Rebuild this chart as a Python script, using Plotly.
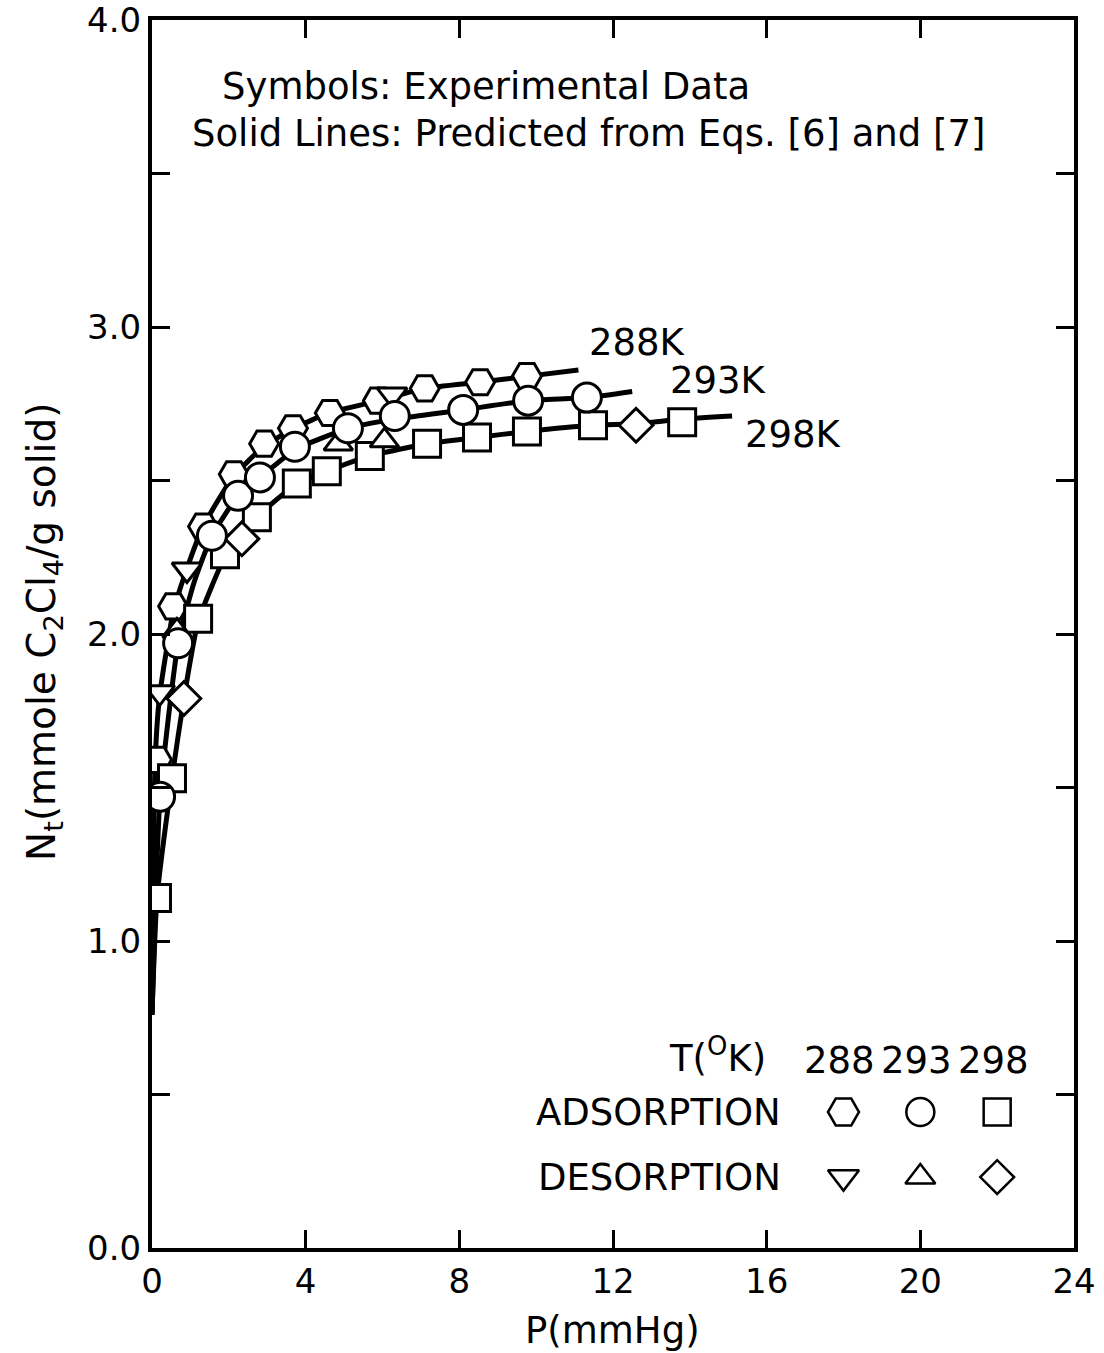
import plotly.graph_objects as go

# ---------------- data ----------------
# 288 K adsorption (hexagons)
ads288_p = [0.13, 0.55, 1.33, 2.13, 2.92, 3.67, 4.63, 5.88, 7.10, 8.54, 9.76]
ads288_n = [1.59, 2.09, 2.35, 2.52, 2.62, 2.67, 2.72, 2.76, 2.80, 2.82, 2.84]
# 288 K desorption (down triangles)
des288_p = [0.20, 0.91, 6.25]
des288_n = [1.81, 2.21, 2.78]
# 293 K adsorption (circles)
ads293_p = [0.21, 0.68, 1.56, 2.24, 2.81, 3.72, 5.10, 6.32, 8.10, 9.79, 11.32]
ads293_n = [1.47, 1.97, 2.32, 2.45, 2.51, 2.61, 2.67, 2.71, 2.73, 2.76, 2.77]
# 293 K desorption (up triangles)
des293_p = [0.65, 4.85, 6.05]
des293_n = [2.01, 2.62, 2.63]
# 298 K adsorption (squares)
ads298_p = [0.13, 0.52, 1.20, 1.90, 2.73, 3.77, 4.55, 5.67, 7.16, 8.46, 9.76, 11.48, 13.80]
ads298_n = [1.14, 1.53, 2.05, 2.26, 2.38, 2.49, 2.53, 2.58, 2.62, 2.64, 2.66, 2.68, 2.69]
# 298 K desorption (diamonds)
des298_p = [0.83, 2.34, 12.60]
des298_n = [1.79, 2.31, 2.68]

# predicted curves (solid lines)
line288_p = [0.0, 0.08, 0.20, 0.55, 0.90, 1.33, 2.10, 2.90, 3.70, 4.60, 5.90, 7.10, 8.50, 9.80, 11.10]
line288_n = [0.76, 1.58, 1.80, 2.07, 2.21, 2.35, 2.51, 2.61, 2.67, 2.72, 2.76, 2.80, 2.82, 2.84, 2.86]
line293_p = [0.0, 0.21, 0.68, 1.10, 1.56, 2.24, 2.81, 3.72, 5.10, 6.32, 8.10, 9.79, 11.32, 12.50]
line293_n = [0.76, 1.47, 1.97, 2.17, 2.32, 2.45, 2.51, 2.60, 2.67, 2.70, 2.73, 2.76, 2.77, 2.79]
line298_p = [0.0, 0.13, 0.52, 0.83, 1.20, 1.90, 2.34, 2.73, 3.77, 4.55, 5.67, 7.16, 8.46, 9.76, 11.48, 12.60, 13.80, 15.10]
line298_n = [0.76, 1.14, 1.53, 1.79, 2.04, 2.25, 2.31, 2.38, 2.49, 2.53, 2.58, 2.62, 2.64, 2.66, 2.68, 2.685, 2.70, 2.71]

curve_labels = ["288K", "293K", "298K"]
curve_label_p = [12.65, 14.75, 16.70]
curve_label_n = [2.95, 2.825, 2.65]

x_ticks = [0, 4, 8, 12, 16, 20, 24]
y_ticks = [0.0, 0.5, 1.0, 1.5, 2.0, 2.5, 3.0, 3.5, 4.0]
y_tick_text = ["0.0", "", "1.0", "", "2.0", "", "3.0", "", "4.0"]

legend_temps = ["288", "293", "298"]
legend_cols = [18.0, 20.0, 22.0]
legend_rows = {"ADSORPTION": 0.443, "DESORPTION": 0.231}

# ---------------- figure ----------------
FONT = "DejaVu Sans"
TXT = 37
fig = go.Figure()

line_style = dict(color="black", width=5, shape="spline", smoothing=0.5)
for px_, ny_ in [(line288_p, line288_n), (line293_p, line293_n), (line298_p, line298_n)]:
    fig.add_trace(go.Scatter(x=px_, y=ny_, mode="lines", line=line_style,
                             hoverinfo="skip", showlegend=False))

def mk(symbol, size):
    return dict(symbol=symbol, size=size, color="white",
                line=dict(color="black", width=3))

series = [
    (ads288_p, ads288_n, "hexagon2", 29),
    (ads298_p, ads298_n, "square", 27),
    (des298_p, des298_n, "diamond", 26),
    (des293_p, des293_n, "triangle-up", 25),
    (des288_p, des288_n, "triangle-down", 26),
    (ads293_p, ads293_n, "circle", 29),
]
for xs, ys, sym, sz in series:
    fig.add_trace(go.Scatter(x=xs, y=ys, mode="markers", marker=mk(sym, sz),
                             showlegend=False))

# legend key symbols
leg_syms = {"ADSORPTION": ["hexagon2", "circle", "square"],
            "DESORPTION": ["triangle-down", "triangle-up", "diamond"]}
leg_sizes = {"ADSORPTION": [31, 28, 27], "DESORPTION": [27, 26, 26]}
for row, yv in legend_rows.items():
    for i, sym in enumerate(leg_syms[row]):
        fig.add_trace(go.Scatter(x=[legend_cols[i]], y=[yv], mode="markers",
                                 marker=dict(symbol=sym, size=leg_sizes[row][i], color="white",
                                             line=dict(color="black", width=2.5)),
                                 showlegend=False))

W0, W1, H0, H1 = 152, 1074, 20, 1248
def px2paper(px, py):
    return (px - W0) / (W1 - W0), (H1 - py) / (H1 - H0)

ann = []
# curve labels
for t, xv, yv in zip(curve_labels, curve_label_p, curve_label_n):
    ann.append(dict(x=xv, y=yv, xref="x", yref="y", text=t, showarrow=False,
                    xanchor="center", yanchor="middle",
                    font=dict(size=TXT, family=FONT, color="black")))
# top texts
for text, (cx, cy) in [("Symbols: Experimental Data", (486, 86)),
                       ("Solid Lines: Predicted from Eqs. [6] and [7]", (588, 133))]:
    xp, yp = px2paper(cx, cy)
    ann.append(dict(x=xp, y=yp, xref="paper", yref="paper", text=text, showarrow=False,
                    xanchor="center", yanchor="middle",
                    font=dict(size=TXT, family=FONT, color="black")))
# legend texts
xp, yp = px2paper(768, 1055)
ann.append(dict(x=xp, y=yp, xref="paper", yref="paper", xanchor="right", yanchor="middle",
                text="T(<sup>O</sup>K)", showarrow=False,
                font=dict(size=TXT, family=FONT, color="black")))
for t, xv in zip(legend_temps, legend_cols):
    ann.append(dict(x=xv - 0.1, y=0.61, xref="x", yref="y", text=t, showarrow=False,
                    xanchor="center", yanchor="middle",
                    font=dict(size=TXT, family=FONT, color="black")))
for row, yv in legend_rows.items():
    ann.append(dict(x=(783 - W0) / 38.42, y=yv, xref="x", yref="y", xanchor="right",
                    yanchor="middle", text=row, showarrow=False,
                    font=dict(size=TXT, family=FONT, color="black")))
# axis titles
xp, yp = px2paper(612, 1330)
ann.append(dict(x=xp, y=yp, xref="paper", yref="paper", text="P(mmHg)", showarrow=False,
                xanchor="center", yanchor="middle",
                font=dict(size=TXT, family=FONT, color="black")))
xp, yp = px2paper(44, 632)
ann.append(dict(x=xp, y=yp, xref="paper", yref="paper", textangle=-90,
                xanchor="center", yanchor="middle",
                text="N<sub>t</sub>(mmole C<sub>2</sub>Cl<sub>4</sub>/g solid)",
                showarrow=False, font=dict(size=39, family=FONT, color="black")))

axis_common = dict(showline=True, linecolor="black", linewidth=4, mirror="ticks",
                   ticks="inside", ticklen=18, tickwidth=3, tickcolor="black",
                   showgrid=False, zeroline=False, automargin=False,
                   ticklabeloverflow="allow",
                   tickfont=dict(size=34, family=FONT, color="black"))
fig.update_layout(
    width=1104, height=1353,
    margin=dict(l=W0, r=1104 - W1, t=H0, b=1353 - H1),
    paper_bgcolor="white", plot_bgcolor="white",
    xaxis=dict(range=[0, 24], tickvals=x_ticks, ticktext=[str(v) for v in x_ticks], **axis_common),
    yaxis=dict(range=[0, 4], tickvals=y_ticks, ticktext=y_tick_text, **axis_common),
    annotations=ann,
    showlegend=False,
)
fig.write_html("out.html")
